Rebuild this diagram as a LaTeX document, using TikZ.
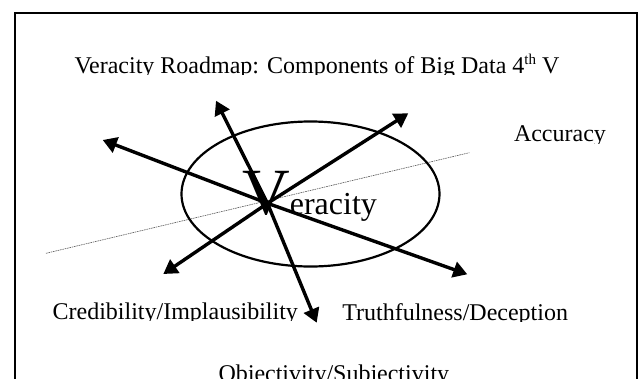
\documentclass[tikz,border=0pt]{standalone}
\usepackage{fontspec}
\setmainfont{Liberation Serif}
\usetikzlibrary{arrows.meta,shapes.geometric}
\tikzset{
  lbl/.style={anchor=base west, inner sep=0pt, outer sep=0pt, font=\fontsize{24}{28}\selectfont},
  spoke/.style={line width=3.4pt, -{Triangle[length=14pt,width=16pt]}},
  frameline/.style={line width=2pt},
  ringline/.style={line width=2.2pt},
  guide/.style={line width=0.6pt, gray!70!black, dash pattern=on 1.6pt off 0.8pt}
}
\begin{document}
\begin{tikzpicture}[x=1pt,y=-1pt]
\useasboundingbox (0,0) rectangle (638,378);
\clip (0,0) rectangle (638,378);
\fill[white] (0,0) rectangle (638,378);
% frame
\draw[frameline] (15,390) -- (15,13) -- (636.5,13) -- (636.5,390);
% guide line
\coordinate (g1) at (46,253.3);
\coordinate (g2) at (469.3,152.7);
\draw[guide] (g1) -- (g2);
% ellipse
\node[draw, ringline, ellipse, minimum width=258pt, minimum height=145pt, inner sep=0pt] (ring) at (310.5,194) {};
% central word
\node[anchor=base west, inner sep=0pt] (ver) at (242,214) {{\fontsize{66}{66}\selectfont V}{\fontsize{32}{32}\selectfont eracity}};
% labels (clipped like text boxes)
\begin{scope}
\clip (60,40) rectangle (600,74.6)
      (500,110) rectangle (620,143)
      (40,290) rectangle (305,320.8)
      (330,290) rectangle (600,321)
      (200,350) rectangle (470,378);
\node[lbl] (title) at (74.5,73.6) {Veracity Roadmap: Components of Big Data 4\raisebox{9pt}{\fontsize{15}{15}\selectfont th} V};
\node[lbl] (acc) at (514,141.8) {Accuracy};
\node[lbl] (cred) at (52.6,319.6) {Credibility/Implausibility};
\node[lbl] (truth) at (342.3,320) {Truthfulness/Deception};
\node[lbl] (obj) at (218.5,381.5) {Objectivity/Subjectivity};
\end{scope}
% spokes
\coordinate (c) at (267.5,203.3);
\coordinate (tul) at (102.7,140);
\coordinate (tu) at (216,100.7);
\coordinate (tur) at (408.3,113.3);
\coordinate (tll) at (163.3,274);
\coordinate (td) at (316.7,322.7);
\coordinate (tlr) at (467.3,274.3);
\draw[spoke] (c) -- (tul);
\draw[spoke] (c) -- (tu);
\draw[spoke] (c) -- (tur);
\draw[spoke] (c) -- (tll);
\draw[spoke] (c) -- (td);
\draw[spoke] (c) -- (tlr);
\end{tikzpicture}
\end{document}
